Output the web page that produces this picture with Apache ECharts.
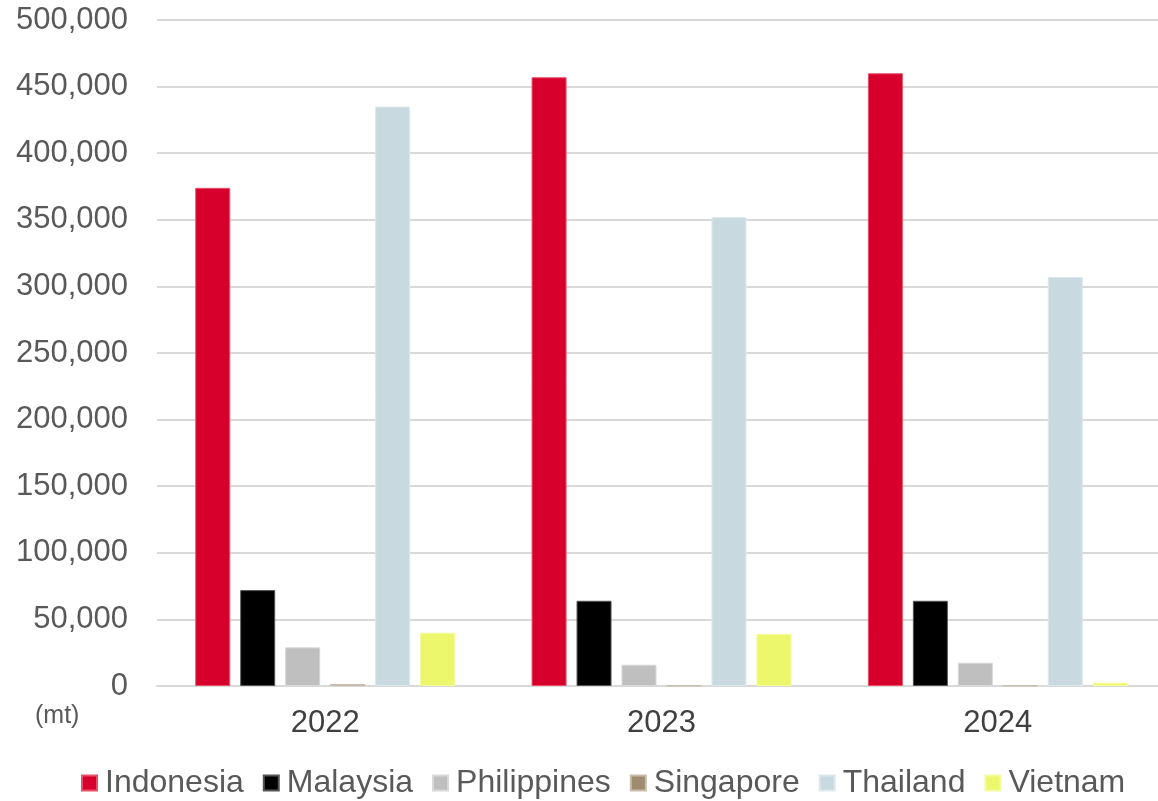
<!DOCTYPE html>
<html><head><meta charset="utf-8">
<script src="https://cdn.jsdelivr.net/npm/echarts@6/dist/echarts.min.js"></script>
<style>html,body{margin:0;padding:0;background:#fff}#c{width:1158px;height:801px}</style>
</head><body><div id="c"></div>
<script>
const years = ['2022', '2023', '2024'];
const countries = ['Indonesia', 'Malaysia', 'Philippines', 'Singapore', 'Thailand', 'Vietnam'];
const colors = ['#d7002d', '#000000', '#bfbfbf', '#9e8c70', '#c8dae0', '#ecf76c'];
const borders = ['#e8506a', '#555555', '#d8d8d8', '#c8bca8', '#dde8ec', '#f4fb9c'];
const indonesia = [374000, 457000, 460000];
const malaysia = [72000, 64000, 64000];
const philippines = [29000, 16000, 17500];
const singapore = [1500, 300, 300];
const thailand = [435000, 352000, 307000];
const vietnam = [40000, 39000, 2500];
const values = [indonesia, malaysia, philippines, singapore, thailand, vietnam];
const yTicks = { min: 0, max: 500000, interval: 50000 };
const FONT = 'Liberation Sans, Arial, sans-serif';

const chart = echarts.init(document.getElementById('c'));
chart.setOption({
  animation: false,
  color: colors,
  textStyle: { fontFamily: FONT },
  grid: { left: 157, width: 1009, top: 20, bottom: 115, outerBoundsMode: 'none', containLabel: false },
  legend: {
    top: 762, left: 76,
    itemWidth: 15, itemHeight: 15, itemGap: 19,
    icon: 'rect',
    textStyle: { fontSize: 32, color: '#595959', padding: [0, 0, 0, 3] },
    data: countries
  },
  xAxis: {
    type: 'category', data: years,
    axisLine: { lineStyle: { color: '#d9d9d9', width: 2 } },
    axisTick: { show: false },
    axisLabel: { fontSize: 31, color: '#404040', margin: 22 }
  },
  yAxis: {
    type: 'value', min: yTicks.min, max: yTicks.max, interval: yTicks.interval,
    axisLine: { show: false }, axisTick: { show: false },
    splitLine: { lineStyle: { color: '#d9d9d9', width: 2 } },
    axisLabel: { fontSize: 31, color: '#595959', margin: 29,
      formatter: v => v.toLocaleString('en-US') }
  },
  graphic: [{ type: 'text', left: 35, top: 704,
    style: { text: '(mt)', fontSize: 25, fill: '#595959', fontFamily: FONT } }],
  series: countries.map((name, i) => ({
    name, type: 'bar', data: values[i],
    barWidth: 35, barGap: '28.5%', barCategoryGap: '22.8%',
    itemStyle: { color: colors[i], borderColor: borders[i], borderWidth: 1 }
  }))
});
</script></body></html>
